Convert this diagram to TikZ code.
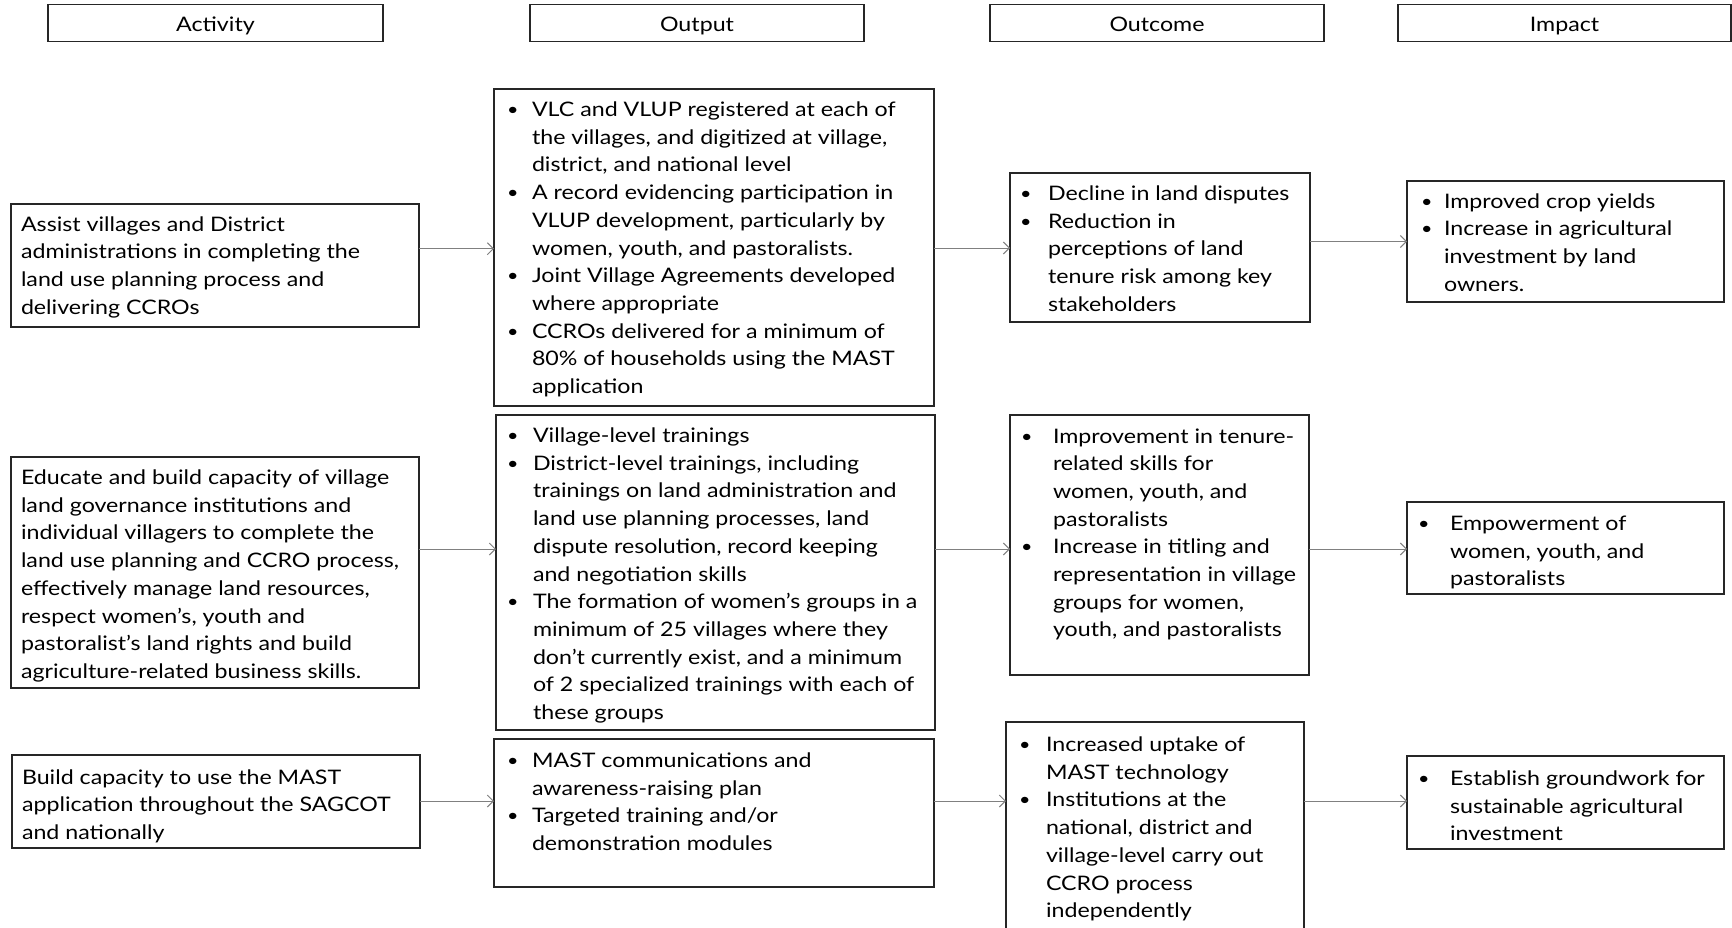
\documentclass[tikz,border=0pt]{standalone}
\usepackage{fontspec}
\setmainfont[FakeStretch=1.16]{Lato}
\usetikzlibrary{arrows.meta}
\newcommand\bodytext[2]{\parbox[t]{#1}{\fontsize{20}{27.7}\selectfont\raggedright\let\\\newline\parindent=0pt\parskip=0pt #2}}
\newcommand\itm[2]{\par\hangindent=#1\hangafter=1\noindent\makebox[#1][l]{\raisebox{1pt}{\scalebox{0.85}{\textbullet}}}#2}
\tikzset{
  bx/.style={draw=black!85, line width=1.4pt, rectangle, inner sep=0pt, outer sep=0pt, anchor=north west},
  hd/.style={draw=black!85, line width=1.4pt, rectangle, inner sep=0pt, outer sep=0pt, anchor=center,
             minimum height=37pt, font=\fontsize{20}{24}\selectfont, text height=20pt, text depth=4pt},
  tx/.style={anchor=base west, inner sep=0pt, outer sep=0pt},
  arr/.style={draw=black!50, line width=1pt, -{Straight Barb[length=6pt,width=12pt]}}
}
\begin{document}
\begin{tikzpicture}[x=1pt,y=-1pt]
\path[use as bounding box] (0,0) rectangle (1732,927);
\fill[white] (0,0) rectangle (1732,927);
\clip (0,0) rectangle (1732,927);
% headers
\node[hd, minimum width=335pt] (h1) at (215.5,23) {Activity};
\node[hd, minimum width=334pt] (h2) at (697,23) {Output};
\node[hd, minimum width=334pt] (h3) at (1157,23) {Outcome};
\node[hd, minimum width=333pt] (h4) at (1564.5,23) {Impact};
% boxes row 1
\node[bx, minimum width=408pt, minimum height=123pt] (a1) at (11,204) {};
\node[bx, minimum width=440pt, minimum height=317pt] (o1) at (494,89) {};
\node[bx, minimum width=300pt, minimum height=149pt] (c1) at (1010,173) {};
\node[bx, minimum width=317pt, minimum height=121pt] (i1) at (1407,181) {};
% boxes row 2
\node[bx, minimum width=408pt, minimum height=231pt] (a2) at (11,457) {};
\node[bx, minimum width=439pt, minimum height=315pt] (o2) at (496,415) {};
\node[bx, minimum width=299pt, minimum height=260pt] (c2) at (1010,415) {};
\node[bx, minimum width=317pt, minimum height=92pt] (i2) at (1407,502) {};
% boxes row 3
\node[bx, minimum width=408pt, minimum height=93pt] (a3) at (12,755) {};
\node[bx, minimum width=440pt, minimum height=148pt] (o3) at (494,739) {};
\node[bx, minimum width=298pt, minimum height=223pt] (c3) at (1006,722) {};
\node[bx, minimum width=317pt, minimum height=93pt] (i3) at (1407,756) {};
% texts row 1
\node[tx] (a1t) at (21,231) {\bodytext{400pt}{Assist villages and District\\administrations in completing the\\land use planning process and\\delivering CCROs}};
\node[tx] (o1t) at (507,116.5) {\bodytext{430pt}{%
\itm{25pt}{VLC and VLUP registered at each of\\the villages, and digitized at village,\\district, and national level}%
\itm{25pt}{A record evidencing participation in\\VLUP development, particularly by\\women, youth, and pastoralists.}%
\itm{25pt}{Joint Village Agreements developed\\where appropriate}%
\itm{25pt}{CCROs delivered for a minimum of\\80\% of households using the MAST\\application}}};
\node[tx] (c1t) at (1020,200.5) {\bodytext{290pt}{%
\itm{28pt}{Decline in land disputes}%
\itm{28pt}{Reduction in\\perceptions of land\\tenure risk among key\\stakeholders}}};
\node[tx] (i1t) at (1421,208) {\bodytext{300pt}{%
\itm{23pt}{Improved crop yields}%
\itm{23pt}{Increase in agricultural\\investment by land\\owners.}}};
% texts row 2
\node[tx] (a2t) at (21,484.5) {\bodytext{400pt}{Educate and build capacity of village\\land governance institutions and\\individual villagers to complete the\\land use planning and CCRO process,\\effectively manage land resources,\\respect women’s, youth and\\pastoralist’s land rights and build\\agriculture-related business skills.}};
\node[tx] (o2t) at (507,442.5) {\bodytext{430pt}{%
\itm{26pt}{Village-level trainings}%
\itm{26pt}{District-level trainings, including\\trainings on land administration and\\land use planning processes, land\\dispute resolution, record keeping\\and negotiation skills}%
\itm{26pt}{The formation of women’s groups in a\\minimum of 25 villages where they\\don’t currently exist, and a minimum\\of 2 specialized trainings with each of\\these groups}}};
\node[tx] (c2t) at (1021,443) {\bodytext{290pt}{%
\itm{32pt}{Improvement in tenure-\\related skills for\\women, youth, and\\pastoralists}%
\itm{32pt}{Increase in titling and\\representation in village\\groups for women,\\youth, and pastoralists}}};
\node[tx] (i2t) at (1418,530.5) {\bodytext{300pt}{%
\itm{32pt}{Empowerment of\\women, youth, and\\pastoralists}}};
% texts row 3
\node[tx] (a3t) at (22,784) {\bodytext{400pt}{Build capacity to use the MAST\\application throughout the SAGCOT\\and nationally}};
\node[tx] (o3t) at (507,767.5) {\bodytext{430pt}{%
\itm{25pt}{MAST communications and\\awareness-raising plan}%
\itm{25pt}{Targeted training and/or\\demonstration modules}}};
\node[tx] (c3t) at (1019,751.5) {\bodytext{290pt}{%
\itm{27pt}{Increased uptake of\\MAST technology}%
\itm{27pt}{Institutions at the\\national, district and\\village-level carry out\\CCRO process\\independently}}};
\node[tx] (i3t) at (1418,785.5) {\bodytext{300pt}{%
\itm{32pt}{Establish groundwork for\\sustainable agricultural\\investment}}};
% arrow levels
\coordinate (r1a) at (0,248.7);
\coordinate (r1b) at (0,248);
\coordinate (r1c) at (0,241.5);
\coordinate (r2) at (0,549);
\coordinate (r3) at (0,801);
% connectors
\draw[arr] (a1.east |- r1a) -- (o1.west |- r1a);
\draw[arr] (o1.east |- r1b) -- (c1.west |- r1b);
\draw[arr] (c1.east |- r1c) -- (i1.west |- r1c);
\draw[arr] (a2.east |- r2) -- (o2.west |- r2);
\draw[arr] (o2.east |- r2) -- (c2.west |- r2);
\draw[arr] (c2.east |- r2) -- (i2.west |- r2);
\draw[arr] (a3.east |- r3) -- (o3.west |- r3);
\draw[arr] (o3.east |- r3) -- (c3.west |- r3);
\draw[arr] (c3.east |- r3) -- (i3.west |- r3);
\end{tikzpicture}
\end{document}
